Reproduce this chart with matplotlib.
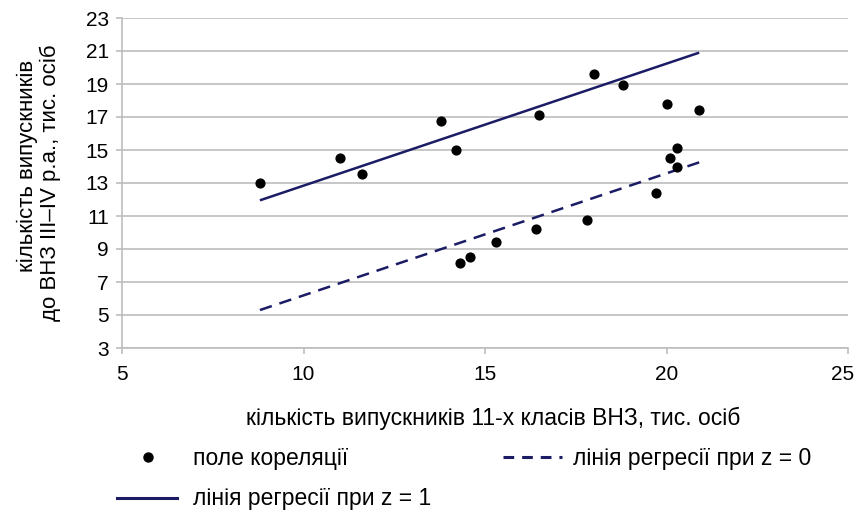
import matplotlib
matplotlib.use('Agg')
import matplotlib.pyplot as plt
import matplotlib.transforms as mtransforms

plt.rcParams['font.family'] = ['Liberation Sans', 'DejaVu Sans']

# correlation field
x_pts = [8.8, 11.0, 11.6, 13.8, 14.2, 14.3, 14.6, 15.3, 16.4, 16.5,
         17.8, 18.0, 18.8, 19.7, 20.0, 20.1, 20.3, 20.3, 20.9]
y_pts = [13.0, 14.5, 13.55, 16.75, 15.0, 8.15, 8.5, 9.4, 10.2, 17.1,
         10.75, 19.6, 18.95, 12.4, 17.8, 14.5, 15.1, 13.95, 17.45]

# regression lines (end points)
x_line = [8.8, 20.9]
y_z1 = [11.95, 20.9]
y_z0 = [5.3, 14.25]

x_ticks = [5, 10, 15, 20, 25]
y_ticks = [3, 5, 7, 9, 11, 13, 15, 17, 19, 21, 23]

LINE_C = '#1c1c66'
GRID_C = '#bdbdbd'
W, H = 857, 512

fig = plt.figure(figsize=(8.57, 5.12), dpi=100)
ax = fig.add_axes([122 / W, 1 - 348 / H, 726 / W, 330 / H])

ax.plot(x_line, y_z1, color=LINE_C, lw=1.8, solid_capstyle='butt')
ax.plot(x_line, y_z0, color=LINE_C, lw=1.8, dashes=(5, 3.2))
ax.scatter(x_pts, y_pts, s=40, color='black', zorder=3)

ax.set_xlim(5, 25)
ax.set_ylim(3, 23)
ax.set_xticks(x_ticks)
ax.set_yticks(y_ticks)
ax.yaxis.grid(True, color=GRID_C, lw=1.2)
ax.set_axisbelow(True)
for s in ['top', 'right']:
    ax.spines[s].set_visible(False)
for s in ['left', 'bottom']:
    ax.spines[s].set_color(GRID_C)
    ax.spines[s].set_linewidth(1.2)
ax.tick_params(axis='y', length=4.5, color=GRID_C, width=1.2, labelsize=15, pad=5)
ax.tick_params(axis='x', length=4, color=GRID_C, width=1.2, labelsize=15, pad=8)

# keep the last x tick label inside the picture
last = ax.get_xticklabels()[-1]
last.set_transform(last.get_transform() +
                   mtransforms.ScaledTranslation(-5 / 100, 0, fig.dpi_scale_trans))

fig.text(493 / W, 1 - 418 / H, 'кількість випускників 11-х класів ВНЗ, тис. осіб',
         ha='center', va='center', fontsize=16.5)
fig.text(27 / W, 1 - 166 / H, 'кількість випускників',
         ha='center', va='center', rotation=90, fontsize=16)
fig.text(50 / W, 1 - 183 / H, 'до ВНЗ III–IV р.а., тис. осіб',
         ha='center', va='center', rotation=90, fontsize=16)

# legend drawn by hand in pixel coordinates
lax = fig.add_axes([0, 0, 1, 1])
lax.set_xlim(0, W)
lax.set_ylim(H, 0)
lax.axis('off')
lax.plot([148], [457], 'o', color='black', ms=6.5)
lax.text(193, 458, 'поле кореляції', fontsize=16.5, va='center')
lax.plot([503, 562], [457, 457], color=LINE_C, lw=2.2, dashes=(3.5, 2.6))
lax.text(573, 458, 'лінія регресії при z = 0', fontsize=16.5, va='center')
lax.plot([117, 177], [498, 498], color=LINE_C, lw=2.2)
lax.text(193, 498, 'лінія регресії при z = 1', fontsize=16.5, va='center')

fig.savefig('out.png', dpi=100)
